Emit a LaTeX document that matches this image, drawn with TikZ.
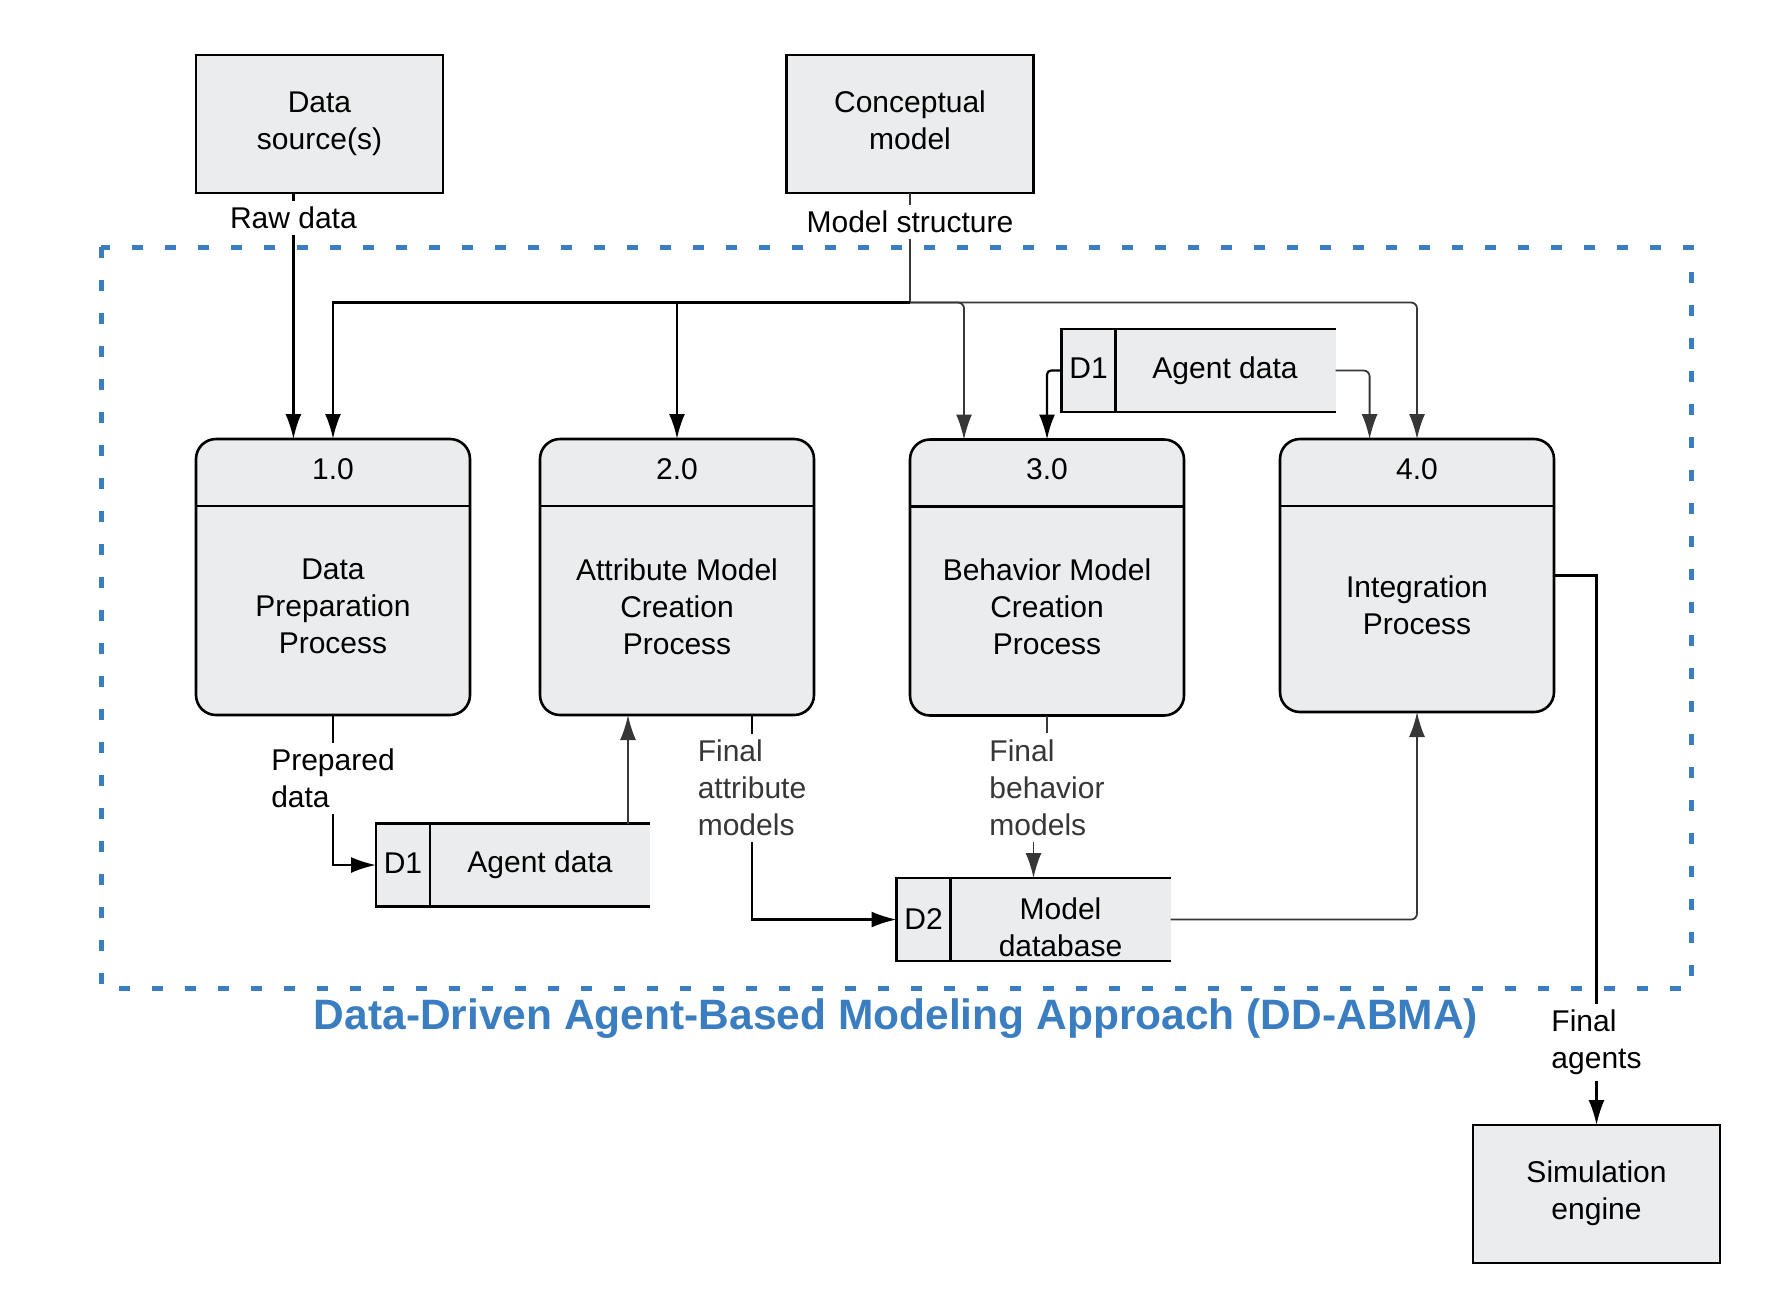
\documentclass[tikz,border=0pt]{standalone}
\usepackage{fontspec}
\setmainfont{Liberation Sans}
\usetikzlibrary{arrows.meta,calc}
\definecolor{boxfill}{RGB}{235,236,237}
\definecolor{dblue}{RGB}{58,125,192}
\definecolor{dgray}{RGB}{55,55,55}
\begin{document}
\begin{tikzpicture}[x=0.5pt,y=-0.5pt,
  every node/.style={font=\fontsize{15}{18.5}\selectfont, inner sep=0pt, outer sep=0pt},
  ext/.style={draw, line width=1.4pt, fill=boxfill, minimum width=123.5pt, minimum height=69pt, align=center},
  proc/.style={draw, line width=1.3pt, fill=boxfill, rounded corners=10pt, minimum width=137pt, minimum height=138pt},
  store/.style={fill=boxfill, minimum width=137pt, minimum height=41.5pt},
  storeline/.style={line width=1.3pt},
  txt/.style={align=center},
  lbl/.style={fill=white, align=left, inner xsep=2pt, inner ysep=3pt},
  arr/.style={line width=1.1pt, -{Latex[length=12.5pt,width=8pt]}},
  garr/.style={draw=dgray, line width=0.9pt, -{Latex[length=12.5pt,width=8pt]}}
]
\useasboundingbox (0,0) rectangle (1780,1296);

% boundary of the approach
\draw[dblue, line width=2.5pt, dash pattern=on 5.5pt off 11pt] (101,247) rectangle (1691,988);
\node[font=\fontsize{21.25}{25}\selectfont\bfseries, text=dblue] (title) at (896,1018.5) {Data-Driven Agent-Based Modeling Approach (DD-ABMA)};

% external entities
\node[ext] (ds) at (319.5,124) {\strut Data\\source(s)\strut};
\node[ext] (cm) at (910,124) {\strut Conceptual\\model\strut};
\node[ext] (sim) at (1596.5,1194) {\strut Simulation\\engine\strut};

% processes
\node[proc] (p1) at (333,577) {};
\node[proc] (p2) at (677,577) {};
\node[proc] (p3) at (1047,577.5) {};
\node[proc, minimum height=136.5pt] (p4) at (1417,575.5) {};
\foreach \p in {p1,p2,p3,p4}
  \draw[line width=1.3pt] ([yshift=-33.5pt]\p.north west) -- ([yshift=-33.5pt]\p.north east);
\node (p1n) at ([yshift=-15pt]p1.north) {1.0};
\node (p2n) at ([yshift=-15pt]p2.north) {2.0};
\node (p3n) at ([yshift=-15pt]p3.north) {3.0};
\node (p4n) at ([yshift=-15pt]p4.north) {4.0};
\node[txt] (p1t) at ([yshift=-14.8pt]p1.center) {Data\\Preparation\\Process};
\node[txt] (p2t) at ([yshift=-14.8pt]p2.center) {Attribute Model\\Creation\\Process};
\node[txt] (p3t) at ([yshift=-14.8pt]p3.center) {Behavior Model\\Creation\\Process};
\node[txt] (p4t) at ([yshift=-14.75pt]p4.center) {Integration\\Process};

% data stores
\node[store] (st1) at (513,865) {};
\node[store] (st3) at (1198.5,370.5) {};
\node[store] (st2) at (1033.5,919.5) {};
\foreach \s in {st1,st2,st3}{
  \draw[storeline] (\s.north east) -- (\s.north west) -- (\s.south west) -- (\s.south east);
  \draw[line width=1.1pt] ([xshift=27pt]\s.north west) -- ([xshift=27pt]\s.south west);
}
\node (st1d) at ([xshift=13.5pt,yshift=1pt]st1.west) {D1};
\node (st1t) at ([xshift=13.5pt]st1.center) {Agent data};
\node (st3d) at ([xshift=13.5pt,yshift=1pt]st3.west) {D1};
\node (st3t) at ([xshift=13.25pt]st3.center) {Agent data};
\node (st2d) at ([xshift=13.5pt]st2.west) {D2};
\node[txt] (st2t) at ([xshift=13.5pt,yshift=-3.75pt]st2.center) {Model\\database};

% flows
\draw[arr] ([xshift=-13.05pt]ds.south) -- node[lbl, pos=0.1]{Raw data} ([xshift=-13.05pt]ds.south |- p1.north);

\coordinate (jn) at (910,302.5);
\draw[line width=1.1pt, dgray] (cm.south) -- node[lbl, pos=0.265, text=black]{Model structure} (jn);
\draw[arr, line width=1.3pt] (jn) -| (p1.north);
\draw[arr, line width=1.3pt] (jn -| p2.north) -- (p2.north);
\draw[garr, rounded corners=3pt] (jn) -| ([xshift=-41.5pt]p3.north);
\draw[garr, rounded corners=3pt] (jn) -| (p4.north);

\draw[arr, rounded corners=2pt] (st3.west) -| (p3.north);
\draw[garr, rounded corners=3pt] (st3.east) -| ([xshift=-23.7pt]p4.north);

\draw[arr] (p1.south) |- node[lbl, pos=0.21]{Prepared\\data} (st1.west);
\draw[garr] ([xshift=-24.5pt]p2.south |- st1.north) -- ([xshift=-24.5pt]p2.south);
\draw[arr] ([xshift=37.5pt]p2.south) |- node[lbl, pos=0.178, text=dgray]{Final\\attribute\\models} (st2.west);

\draw[garr] (p3.south) -- ([yshift=-36pt]p3.south) -| (st2.north);
\node[lbl, text=dgray] (l3) at ([yshift=-36pt]p3.south) {Final\\behavior\\models};

\draw[garr, rounded corners=3pt] (st2.east) -| (p4.south);
\draw[arr] (p4.east) -| node[lbl, pos=0.9245]{Final\\agents} (sim.north);
\end{tikzpicture}
\end{document}
